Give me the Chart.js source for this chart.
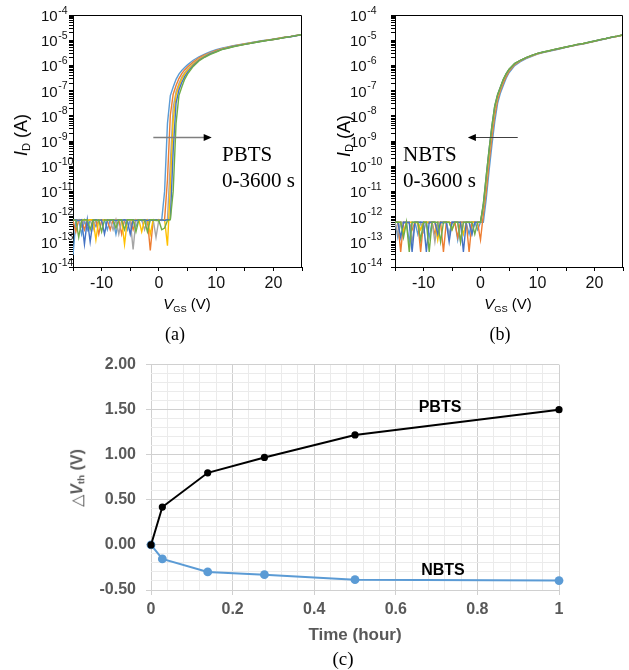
<!DOCTYPE html>
<html>
<head>
<meta charset="utf-8">
<script src="https://cdn.jsdelivr.net/npm/chart.js@4/dist/chart.umd.min.js"></script>
<style>
  html, body { margin:0; padding:0; background:#fff; }
  #wrap { position:relative; width:629px; height:670px; overflow:hidden; background:#fff; }
  canvas { position:absolute; }
  .t { position:absolute; white-space:nowrap; transform:translate(-50%,-50%); line-height:1; }
  .sans { font-family:'Liberation Sans', Arial, sans-serif; }
  .serif { font-family:'Liberation Serif', 'Times New Roman', serif; }
  .rot { transform:translate(-50%,-50%) rotate(-90deg); }
  .sub { font-size:0.62em; vertical-align:-0.25em; }
  .blk { position:absolute; white-space:nowrap; font-family:'Liberation Serif', 'Times New Roman', serif; font-size:21px; line-height:26px; color:#000; }
</style>
</head>
<body>
<div id="wrap">
  <canvas id="ca" width="310" height="300" style="left:0;top:0"></canvas>
  <canvas id="cb" width="319" height="300" style="left:310px;top:0"></canvas>
  <canvas id="cc" width="629" height="295" style="left:0;top:345px"></canvas>

  <div class="t sans rot" style="left:22px;top:135px;font-size:18px;color:#000"><i>I</i><span class="sub">D</span> (A)</div>
  <div class="t sans" style="left:187px;top:305px;font-size:15px;color:#000"><i>V</i><span class="sub">GS</span> (V)</div>
  <div class="t serif" style="left:175px;top:334px;font-size:18px;color:#000">(a)</div>
  <div class="blk" style="left:222px;top:141px">PBTS<br>0-3600 s</div>

  <div class="t sans rot" style="left:345px;top:136px;font-size:18px;color:#000"><i>I</i><span class="sub">D</span> (A)</div>
  <div class="t sans" style="left:508px;top:305px;font-size:15px;color:#000"><i>V</i><span class="sub">GS</span> (V)</div>
  <div class="t serif" style="left:500px;top:334px;font-size:18px;color:#000">(b)</div>
  <div class="blk" style="left:403px;top:141px">NBTS<br>0-3600 s</div>

  <div class="t sans rot" style="left:78px;top:478px;font-size:16px;color:#595959;font-weight:bold"><span style="font-weight:normal">△</span><i>V</i><span class="sub">th</span> (V)</div>
  <div class="t sans" style="left:355px;top:634px;font-size:17px;color:#595959;font-weight:bold">Time (hour)</div>
  <div class="t serif" style="left:343px;top:658px;font-size:19px;color:#000">(c)</div>
  <div class="t sans" style="left:440px;top:407px;font-size:16px;color:#000;font-weight:bold">PBTS</div>
  <div class="t sans" style="left:443px;top:570px;font-size:16px;color:#000;font-weight:bold">NBTS</div>
</div>

<script>
// ---------------- DATA ----------------
const stressTimes = ['0 s', '100 s', '500 s', '1000 s', '1800 s', '3600 s'];
const curveColors = ['#5B9BD5', '#ED7D31', '#A5A5A5', '#FFC000', '#4472C4', '#70AD47'];

// gate voltage sweep (V)
const VGS = [-15,-14.5,-14,-13.5,-13,-12.5,-12,-11.5,-11,-10.5,-10,-9.5,-9,-8.5,-8,-7.5,-7,-6.5,-6,-5.5,-5,-4.5,-4,-3.5,-3,-2.5,-2,-1.5,-1,-0.5,0,
  0.5,1,1.5,2,2.5,3,3.5,4,4.5,5,
  6,7,8,9,10,11,12,13,14,15,16,17,18,19,20,21,22,23,24,25];

// (a) PBTS drain current (A)
const pbts0 = [3e-14,6e-13,7.5e-13,2e-13,7e-13,3e-13,7.5e-13,7e-13,4e-13,7.5e-13,7e-13,7.5e-13,3e-13,7.5e-13,7e-13,2e-13,7.5e-13,7e-13,7.5e-13,3e-13,7.5e-13,7e-13,4e-13,7.5e-13,7e-13,7.5e-13,5e-13,7.5e-13,7e-13,7.5e-13,7.5e-13,
  7.5e-13,1e-11,5e-9,6.3e-8,1.4e-7,2.8e-7,4.5e-7,6.3e-7,8.3e-7,1.05e-6,
  1.6e-6,2.2e-6,2.8e-6,3.5e-6,4.2e-6,4.8e-6,5.4e-6,6.0e-6,6.6e-6,7.2e-6,7.9e-6,8.7e-6,9.5e-6,1.02e-5,1.1e-5,1.2e-5,1.32e-5,1.41e-5,1.55e-5,1.7e-5];
const pbts100 = [7e-13,2.5e-13,7.5e-13,7e-13,3e-13,7.5e-13,7e-13,7.5e-13,7.5e-13,2e-13,7e-13,7.5e-13,7e-13,3e-13,7.5e-13,7e-13,7.5e-13,2e-13,7.5e-13,7e-13,7.5e-13,3e-13,7.5e-13,7e-13,7.5e-13,7e-13,7.5e-13,4.5e-14,7e-13,7.5e-13,7e-13,
  7.5e-13,7.8e-13,2.9e-11,1.05e-8,7.2e-8,1.6e-7,3e-7,4.7e-7,6.6e-7,8.7e-7,
  1.35e-6,2e-6,2.6e-6,3.2e-6,3.9e-6,4.6e-6,5.2e-6,5.9e-6,6.5e-6,7.1e-6,7.8e-6,8.6e-6,9.4e-6,1.01e-5,1.09e-5,1.19e-5,1.31e-5,1.4e-5,1.54e-5,1.69e-5];
const pbts500 = [7.5e-13,7e-13,7.5e-13,4e-13,7.5e-13,7e-13,7.5e-13,3e-13,7.5e-13,7e-13,7.5e-13,7e-13,7.5e-13,7e-13,3e-13,7.5e-13,2e-13,7.5e-13,7e-13,7.5e-13,7e-13,5e-14,7.5e-13,7e-13,7.5e-13,3e-13,7.5e-13,7e-13,7.5e-13,1.5e-13,7.5e-13,
  7e-13,7.5e-13,7.6e-13,1.4e-10,2.1e-8,9e-8,1.9e-7,3.4e-7,5.1e-7,7.1e-7,
  1.2e-6,1.8e-6,2.45e-6,3.1e-6,3.7e-6,4.5e-6,5.1e-6,5.8e-6,6.4e-6,7.0e-6,7.7e-6,8.5e-6,9.3e-6,1.0e-5,1.08e-5,1.18e-5,1.3e-5,1.39e-5,1.53e-5,1.68e-5];
const pbts1000 = [7.5e-13,7.5e-13,7e-13,7.5e-13,7.5e-13,7e-13,7.5e-13,7.5e-13,1.2e-13,7.5e-13,7.5e-13,7e-13,7.5e-13,7.5e-13,7e-13,7.5e-13,7.5e-13,7e-13,8e-14,7.5e-13,7.5e-13,7e-13,7.5e-13,7.5e-13,2.5e-13,7.5e-13,7.5e-13,2e-13,7.5e-13,7.5e-13,7.5e-13,
  7.5e-13,7.5e-13,7e-14,1.5e-11,6.6e-9,6.6e-8,1.5e-7,2.9e-7,4.6e-7,6.5e-7,
  1.1e-6,1.7e-6,2.35e-6,3e-6,3.6e-6,4.4e-6,5.0e-6,5.7e-6,6.3e-6,6.9e-6,7.6e-6,8.4e-6,9.2e-6,9.9e-6,1.07e-5,1.17e-5,1.29e-5,1.38e-5,1.52e-5,1.67e-5];
const pbts1800 = [7e-13,7.5e-13,7e-13,7.5e-13,8e-14,7.5e-13,1e-13,7e-13,7.5e-13,7e-13,7.5e-13,2e-13,7.5e-13,7e-13,7.5e-13,7e-13,7.5e-13,7e-13,7.5e-13,7e-13,2e-13,7.5e-13,7e-13,7.5e-13,7e-13,7.5e-13,7e-13,7.5e-13,7e-13,7.5e-13,7e-13,
  7.5e-13,7e-13,7.5e-13,7.8e-13,4.1e-10,3.2e-8,1.05e-7,2.1e-7,3.6e-7,5.4e-7,
  1e-6,1.6e-6,2.2e-6,2.9e-6,3.5e-6,4.3e-6,4.9e-6,5.6e-6,6.2e-6,6.8e-6,7.5e-6,8.3e-6,9.1e-6,9.8e-6,1.06e-5,1.16e-5,1.28e-5,1.37e-5,1.51e-5,1.66e-5];
const pbts3600 = [7.5e-13,7e-13,1.5e-13,7e-13,7.5e-13,7.5e-13,3e-13,7.5e-13,7e-13,7.5e-13,2.5e-13,7.5e-13,7e-13,7.5e-13,7.5e-13,3.5e-13,7.5e-13,7.5e-13,3e-13,7.5e-13,7.5e-13,7.5e-13,2.5e-13,7.5e-13,7.5e-13,7e-13,2.5e-13,7.5e-13,7.5e-13,7e-13,7e-13,
  3e-13,3.5e-13,7e-13,7.5e-13,1e-11,5e-9,6.3e-8,1.4e-7,2.8e-7,4.5e-7,
  9.1e-7,1.5e-6,2.1e-6,2.75e-6,3.4e-6,4.2e-6,4.8e-6,5.5e-6,6.1e-6,6.8e-6,7.5e-6,8.3e-6,9.1e-6,9.8e-6,1.06e-5,1.16e-5,1.28e-5,1.38e-5,1.52e-5,1.68e-5];

// (b) NBTS drain current (A)
const nbts0 = [6e-13,1.5e-13,6e-13,5.5e-13,6e-13,1e-13,6e-13,6e-13,2e-13,6e-13,5.5e-13,6e-13,1.5e-13,6e-13,6e-13,3e-13,6e-13,5.5e-13,6e-13,2e-13,6e-13,6e-13,1.2e-13,6e-13,6e-13,5.5e-13,2e-13,6e-13,6e-13,3e-13,6e-13,
  6e-13,4.9e-12,6.5e-11,6.9e-10,5.8e-9,3.1e-8,8.1e-8,1.6e-7,3.1e-7,5.1e-7,
  9.8e-7,1.4e-6,1.85e-6,2.3e-6,2.8e-6,3.2e-6,3.6e-6,4.1e-6,4.6e-6,5.2e-6,5.8e-6,6.5e-6,7.1e-6,8e-6,9e-6,1.02e-5,1.14e-5,1.29e-5,1.42e-5,1.6e-5];
const nbts100 = [6e-13,6e-13,4e-14,6e-13,6e-13,5.5e-13,3e-13,6e-13,6e-13,4e-14,6e-13,6e-13,5.5e-13,6e-13,2e-13,6e-13,6e-13,4e-14,6e-13,6e-13,5.5e-13,6e-13,1.5e-13,6e-13,6e-13,6e-13,4e-14,6e-13,6e-13,5.5e-13,1.2e-13,
  1.26e-12,9.5e-12,1.4e-10,1.4e-9,1.05e-8,4.3e-8,1.02e-7,2e-7,3.6e-7,5.8e-7,
  1.07e-6,1.5e-6,1.95e-6,2.4e-6,2.9e-6,3.3e-6,3.7e-6,4.2e-6,4.7e-6,5.3e-6,5.9e-6,6.6e-6,7.2e-6,8.1e-6,9.1e-6,1.03e-5,1.15e-5,1.3e-5,1.43e-5,1.6e-5];
const nbts500 = [6e-13,2e-13,6e-13,6e-13,5.5e-13,6e-13,1e-13,6e-13,6e-13,6e-13,2.5e-13,6e-13,6e-13,6e-13,1e-13,6e-13,5.5e-13,6e-13,6e-13,1.5e-13,6e-13,6e-13,6e-13,1e-13,6e-13,6e-13,6e-13,2e-13,6e-13,6e-13,6e-13,
  2.1e-12,2.2e-11,2.8e-10,2.6e-9,1.7e-8,5.8e-8,1.23e-7,2.5e-7,4.3e-7,6.5e-7,
  1.15e-6,1.58e-6,2.0e-6,2.45e-6,2.95e-6,3.35e-6,3.75e-6,4.25e-6,4.75e-6,5.35e-6,5.95e-6,6.7e-6,7.3e-6,8.2e-6,9.2e-6,1.04e-5,1.16e-5,1.31e-5,1.44e-5,1.61e-5];
const nbts1000 = [6e-13,6e-13,6e-13,2.5e-13,6e-13,6e-13,6e-13,5.5e-13,6e-13,3e-13,6e-13,6e-13,6e-13,6e-13,6e-13,1.2e-13,6e-13,6e-13,6e-13,6e-13,3e-13,6e-13,6e-13,6e-13,2e-13,6e-13,6e-13,6e-13,6e-13,6e-13,6e-13,
  2.5e-12,2.7e-11,3.3e-10,3e-9,2e-8,6.2e-8,1.3e-7,2.6e-7,4.4e-7,6.7e-7,
  1.17e-6,1.59e-6,2.02e-6,2.47e-6,2.97e-6,3.37e-6,3.77e-6,4.27e-6,4.77e-6,5.37e-6,5.97e-6,6.72e-6,7.32e-6,8.22e-6,9.22e-6,1.04e-5,1.16e-5,1.31e-5,1.44e-5,1.61e-5];
const nbts1800 = [6e-13,6e-13,1.5e-13,6e-13,6e-13,6e-13,4e-14,6e-13,6e-13,6e-13,6e-13,4e-14,6e-13,6e-13,6e-13,2e-13,6e-13,6e-13,6e-13,1e-13,6e-13,6e-13,6e-13,6e-13,4e-14,6e-13,6e-13,2e-13,6e-13,6e-13,6e-13,
  3.1e-12,3.9e-11,4.4e-10,3.9e-9,2.45e-8,6.9e-8,1.38e-7,2.75e-7,4.6e-7,6.9e-7,
  1.19e-6,1.6e-6,2.04e-6,2.49e-6,2.99e-6,3.39e-6,3.79e-6,4.29e-6,4.79e-6,5.39e-6,5.99e-6,6.75e-6,7.35e-6,8.25e-6,9.25e-6,1.045e-5,1.165e-5,1.315e-5,1.445e-5,1.615e-5];
const nbts3600 = [6e-13,6e-13,6e-13,1.5e-13,6e-13,4e-14,6e-13,6e-13,6e-13,1.2e-13,6e-13,6e-13,4e-14,6e-13,6e-13,6e-13,1e-13,6e-13,6e-13,6e-13,3e-13,6e-13,6e-13,1e-13,6e-13,6e-13,6e-13,6e-13,2e-13,6e-13,6e-13,
  3.2e-12,4e-11,4.5e-10,4e-9,2.5e-8,7e-8,1.4e-7,2.8e-7,4.7e-7,7e-7,
  1.2e-6,1.6e-6,2.05e-6,2.5e-6,3e-6,3.4e-6,3.8e-6,4.3e-6,4.8e-6,5.4e-6,6e-6,6.8e-6,7.4e-6,8.3e-6,9.3e-6,1.05e-5,1.17e-5,1.32e-5,1.45e-5,1.62e-5];

// tick labels
const yTickExps = [-14, -13, -12, -11, -10, -9, -8, -7, -6, -5, -4];
const xTickLabelsTop = [-10, 0, 10, 20];

// (c) threshold voltage shift
const timeHours = [0, 0.0278, 0.139, 0.278, 0.5, 1];
const dVthPBTS = [0, 0.42, 0.80, 0.97, 1.22, 1.50];
const dVthNBTS = [0, -0.155, -0.30, -0.33, -0.385, -0.395];

// ---------------- DRAWING ----------------
const SANS = "'Liberation Sans', Arial, sans-serif";

const axisDecor = {
  id: 'axisDecor',
  afterDraw(chart, args, o) {
    const { ctx, chartArea: a, scales: { x, y } } = chart;
    ctx.save();
    ctx.strokeStyle = '#000';
    ctx.lineWidth = 1;
    ctx.beginPath();
    ctx.moveTo(a.left, a.top + 0.5);
    ctx.lineTo(a.right - 0.5, a.top + 0.5);
    ctx.lineTo(a.right - 0.5, a.bottom);
    ctx.stroke();
    ctx.fillStyle = '#111';
    ctx.textAlign = 'left';
    ctx.textBaseline = 'alphabetic';
    yTickExps.forEach(e => {
      const py = y.getPixelForValue(Math.pow(10, e));
      ctx.font = '15px ' + SANS;
      ctx.fillText('10', o.labelX, py + 6);
      const w = ctx.measureText('10').width;
      ctx.font = '10.5px ' + SANS;
      ctx.fillText(String(e), o.labelX + w + 0.5, py - 1.5);
    });
    const ar = o.arrow;
    const x0 = x.getPixelForValue(ar.from), x1 = x.getPixelForValue(ar.to);
    const py = Math.round(y.getPixelForValue(ar.at)) + 0.5;
    const dir = Math.sign(x1 - x0);
    ctx.strokeStyle = ar.color;
    ctx.lineWidth = ar.width;
    ctx.beginPath();
    ctx.moveTo(x0, py);
    ctx.lineTo(x1 - dir * 6, py);
    ctx.stroke();
    ctx.fillStyle = '#000';
    ctx.beginPath();
    ctx.moveTo(x1, py);
    ctx.lineTo(x1 - dir * 8, py - 3.5);
    ctx.lineTo(x1 - dir * 8, py + 3.5);
    ctx.closePath();
    ctx.fill();
    ctx.restore();
  }
};

function topChart(id, series, o) {
  return new Chart(document.getElementById(id), {
    type: 'line',
    data: {
      datasets: series.map((s, k) => ({
        label: stressTimes[k],
        data: VGS.map((v, i) => ({ x: v, y: s[i] })),
        borderColor: curveColors[k],
        backgroundColor: curveColors[k],
        borderWidth: 1.4,
        pointRadius: 0,
        tension: 0,
        fill: false,
        order: 5 - k
      }))
    },
    options: {
      animation: false, responsive: false, devicePixelRatio: 1,
      layout: { padding: { left: 0, top: 15, right: o.right, bottom: 0 } },
      plugins: { legend: { display: false }, tooltip: { enabled: false }, axisDecor: o },
      scales: {
        x: {
          type: 'linear', min: -15, max: 25,
          afterFit(s) { s.height = 33; },
          ticks: {
            stepSize: 5, autoSkip: false, maxRotation: 0, padding: 3, color: '#111',
            font: { family: SANS, size: 16 },
            callback: v => xTickLabelsTop.includes(v) ? String(v) : ''
          },
          grid: { drawOnChartArea: false, drawTicks: true, tickLength: 4, tickColor: '#000' },
          border: { color: '#000', width: 1 }
        },
        y: {
          type: 'logarithmic', min: 1e-14, max: 1e-4,
          afterFit(s) { s.width = o.yWidth; },
          afterBuildTicks(s) {
            const t = [];
            yTickExps.forEach(e => {
              t.push({ value: Math.pow(10, e) });
              if (e < -4) for (let m = 2; m < 10; m++) t.push({ value: m * Math.pow(10, e) });
            });
            s.ticks = t;
          },
          ticks: { display: false, autoSkip: false },
          grid: { drawOnChartArea: false, drawTicks: true, tickLength: 4, tickColor: '#000' },
          border: { color: '#000', width: 1 }
        }
      }
    },
    plugins: [axisDecor]
  });
}

topChart('ca', [pbts0, pbts100, pbts500, pbts1000, pbts1800, pbts3600],
  { right: 8, yWidth: 73, labelX: 41, arrow: { from: -0.97, to: 9.23, at: 1.4e-9, color: '#7f7f7f', width: 1.3 } });
topChart('cb', [nbts0, nbts100, nbts500, nbts1000, nbts1800, nbts3600],
  { right: 6, yWidth: 85, labelX: 40, arrow: { from: 6.53, to: -2.22, at: 1.5e-9, color: '#404040', width: 1 } });

const isMult = (v, step) => Math.abs(v / step - Math.round(v / step)) < 1e-6;

new Chart(document.getElementById('cc'), {
  type: 'line',
  data: {
    datasets: [
      { label: 'PBTS', data: timeHours.map((t, i) => ({ x: t, y: dVthPBTS[i] })),
        borderColor: '#000', backgroundColor: '#000', borderWidth: 2, pointRadius: 3.6,
        pointBorderWidth: 0, tension: 0, clip: false },
      { label: 'NBTS', data: timeHours.map((t, i) => ({ x: t, y: dVthNBTS[i] })),
        borderColor: '#5B9BD5', backgroundColor: '#5B9BD5', borderWidth: 2, pointRadius: 4.4,
        pointBorderWidth: 0, tension: 0, clip: false }
    ]
  },
  options: {
    animation: false, responsive: false, devicePixelRatio: 1,
    layout: { padding: { left: 0, top: 17, right: 70, bottom: 0 } },
    plugins: { legend: { display: false }, tooltip: { enabled: false } },
    scales: {
      x: {
        type: 'linear', min: 0, max: 1,
        afterFit(s) { s.height = 50; },
        ticks: {
          stepSize: 0.04, autoSkip: false, maxRotation: 0, padding: 5, color: '#595959',
          font: { family: SANS, size: 16, weight: 'bold' },
          callback: v => isMult(v, 0.2) ? String(+v.toFixed(1)) : ''
        },
        grid: {
          color: c => isMult(c.tick.value, 0.2) ? '#d0d0d0' : '#ebebeb',
          tickLength: 5,
          tickColor: c => isMult(c.tick.value, 0.2) ? '#d0d0d0' : 'rgba(0,0,0,0)'
        },
        border: { display: false }
      },
      y: {
        type: 'linear', min: -0.5, max: 2,
        afterFit(s) { s.width = 151; },
        ticks: {
          stepSize: 0.1, autoSkip: false, padding: 10, color: '#595959',
          font: { family: SANS, size: 16, weight: 'bold' },
          callback: v => isMult(v, 0.5) ? v.toFixed(2) : ''
        },
        grid: {
          color: c => isMult(c.tick.value, 0.5) ? '#d0d0d0' : '#ebebeb',
          tickLength: 5,
          tickColor: c => isMult(c.tick.value, 0.5) ? '#d0d0d0' : 'rgba(0,0,0,0)'
        },
        border: { display: false }
      }
    }
  }
});
</script>
</body>
</html>
